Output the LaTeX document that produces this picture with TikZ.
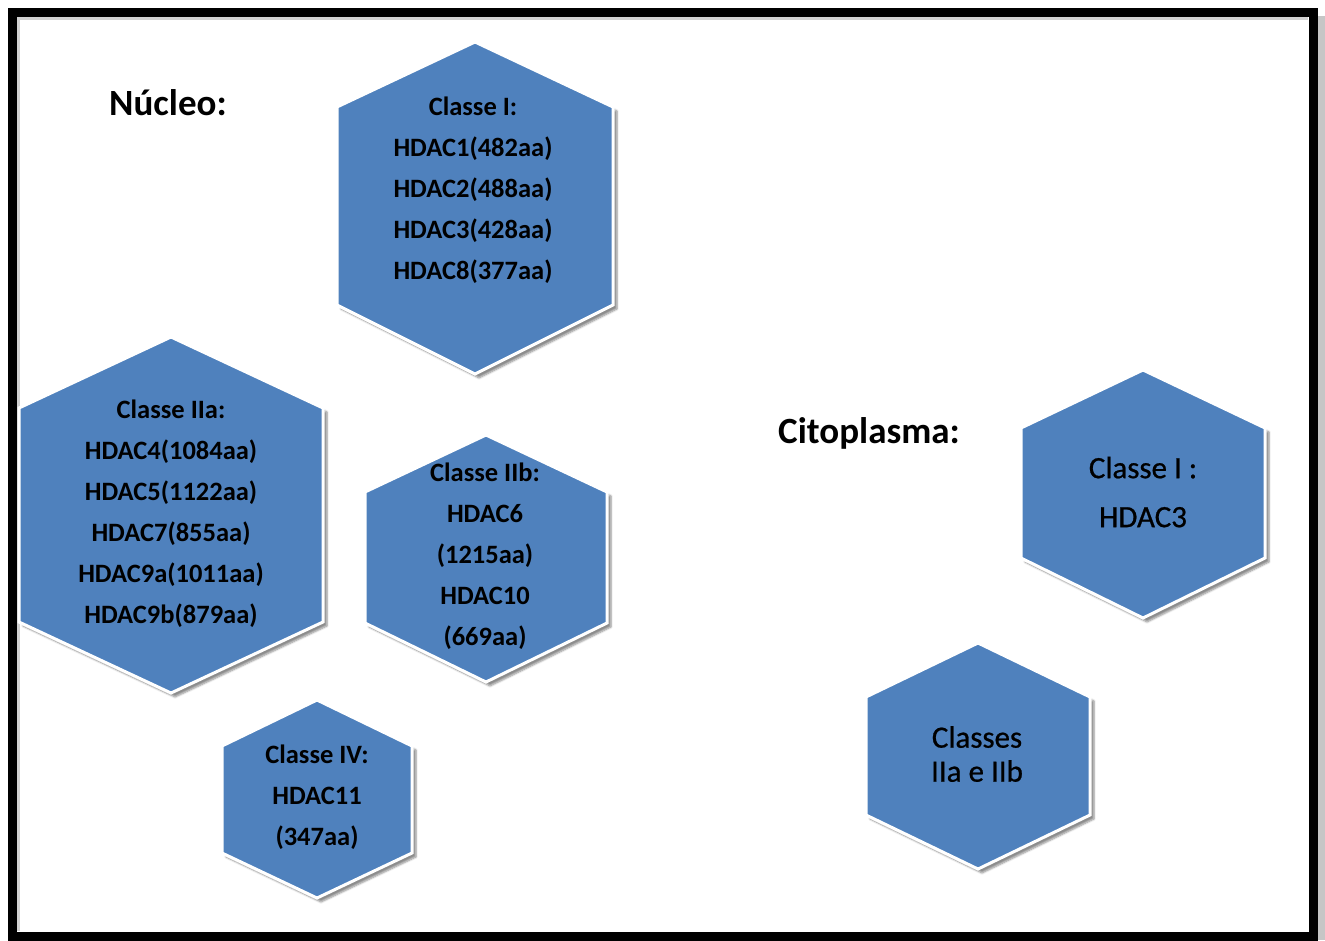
\documentclass[tikz,border=0pt]{standalone}
\usepackage{fontspec}
\setmainfont{Carlito}
\newfontfamily\heavyreg{Carlito}[FakeBold=0.7]
\usetikzlibrary{shadows.blur}
\definecolor{hexblue}{RGB}{79,129,189}
\tikzset{
  hexshape/.style={fill=hexblue, draw=white, line width=3pt, line join=miter,
    blur shadow={shadow xshift=4pt, shadow yshift=-4pt, shadow blur steps=6, shadow opacity=45}},
  hextext/.style={align=center, inner sep=0pt, text=black},
  title/.style={inner sep=0pt, font=\bfseries\fontsize{37}{42}\selectfont}
}
\newcommand\hexagon[6]{%
  \path[hexshape] (#1,#2) -- ({#1+#6},#3) -- ({#1+#6},#4) -- (#1,#5) -- ({#1-#6},#4) -- ({#1-#6},#3) -- cycle;}
\begin{document}
\begin{tikzpicture}[x=1pt,y=-1pt]
\useasboundingbox (0,0) rectangle (1325,940);
% frame
\fill[gray!45] (1316,16) rectangle (1325,940);
\draw[line width=9pt] (12.5,12.5) rectangle (1313,936.5);
\draw[gray!35, line width=3pt] (18.5,18.5) -- (18.5,931);
\draw[gray!35, line width=3pt] (17,18.5) -- (1308,18.5);
% hexagons
\hexagon{475}{42}{107}{305}{374}{138}
\hexagon{171}{337}{408}{622}{693}{152}
\hexagon{486}{435}{492}{623}{682}{121}
\hexagon{317}{700}{746}{853}{898}{95}
\hexagon{1143}{370}{428}{558}{618}{122}
\hexagon{978}{643}{697}{815}{869}{112}
% titles
\node[title] (nucleo) at (168,103) {Núcleo:};
\node[title] (cito) at (869,433) {Citoplasma:};
% texts
\node[hextext, font=\bfseries\fontsize{26.5}{41}\selectfont] (c1) at (473,190)
  {Classe I:\\HDAC1(482aa)\\HDAC2(488aa)\\HDAC3(428aa)\\HDAC8(377aa)};
\node[hextext, font=\bfseries\fontsize{26.5}{41}\selectfont] (c2a) at (171,514)
  {Classe IIa:\\HDAC4(1084aa)\\HDAC5(1122aa)\\HDAC7(855aa)\\HDAC9a(1011aa)\\HDAC9b(879aa)};
\node[hextext, font=\bfseries\fontsize{26.5}{41}\selectfont] (c2b) at (485,556)
  {Classe IIb:\\HDAC6\\(1215aa)\\HDAC10\\(669aa)};
\node[hextext, font=\bfseries\fontsize{26.5}{41}\selectfont] (c4) at (317,797)
  {Classe IV:\\HDAC11\\(347aa)};
\node[hextext, font=\heavyreg\fontsize{31}{49}\selectfont] (cc1) at (1143,492)
  {Classe I :\\HDAC3};
\node[hextext, font=\heavyreg\fontsize{31}{34}\selectfont] (cc2) at (977,754)
  {Classes\\IIa e IIb};
\end{tikzpicture}
\end{document}
